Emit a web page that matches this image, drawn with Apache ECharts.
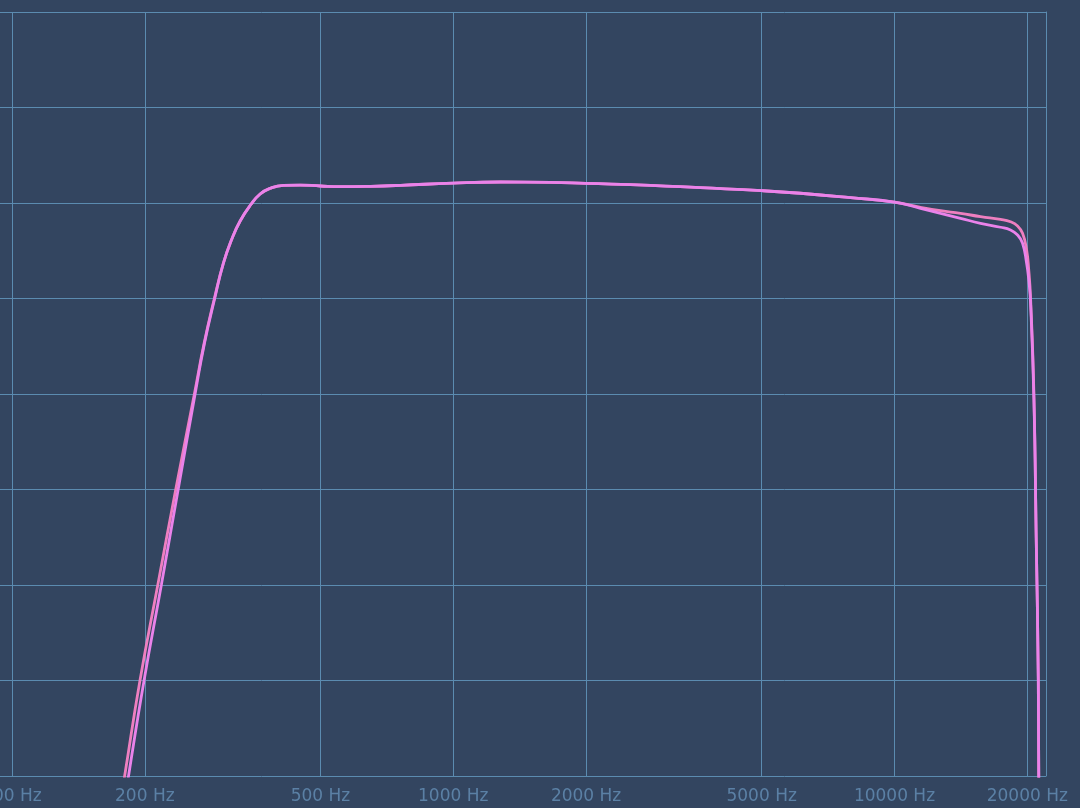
<!DOCTYPE html>
<html>
<head>
<meta charset="utf-8">
<title>Frequency response</title>
<script src="https://cdn.jsdelivr.net/npm/echarts@6/dist/echarts.min.js"></script>
<style>
  html, body { margin: 0; padding: 0; background: #334560; }
  #chart { width: 1080px; height: 808px; }
</style>
</head>
<body>
<div id="chart"></div>
<script>
// tick labels on the frequency axis (Hz)
var freqTicks = [100, 200, 500, 1000, 2000, 5000, 10000, 20000];

// curve 1 (pink)
var pinkFreq = [160, 166, 180, 195, 214, 235, 259, 272.5, 287.5, 301.4, 315, 328.9, 347.8, 365.1, 384.6, 412.3, 449.8, 500, 554.3, 650, 760, 1000, 1280, 1660, 2000, 2800, 3630, 5000, 6120, 7950, 10000, 11455, 12717, 14115, 15668, 17394, 18323, 19010, 19513, 19925, 20150, 20346, 20700, 20950, 21182, 21260];
var pinkDb = [-82, -80, -70, -60, -50, -40, -30, -24.7, -20, -16.3, -13.77, -11.88, -10.16, -9.06, -8.46, -8.15, -8.12, -8.22, -8.29, -8.25, -8.15, -7.91, -7.8, -7.83, -7.94, -8.15, -8.4, -8.71, -8.98, -9.44, -9.9, -10.45, -10.81, -11.08, -11.43, -11.71, -11.96, -12.41, -13.17, -14.9, -17, -20, -30, -45, -60, -75];

// curve 2 (violet)
var violetFreq = [164, 170, 183.7, 199.2, 218, 238, 260, 273, 288, 301.4, 315, 328.9, 347.8, 365.1, 384.6, 412.3, 449.8, 500, 554.3, 650, 760, 1000, 1280, 1660, 2000, 2800, 3630, 5000, 6120, 7950, 10000, 11455, 12717, 14115, 15668, 17394, 18323, 19010, 19513, 19925, 20150, 20346, 20700, 20950, 21182, 21260];
var violetDb = [-82, -80, -70, -60, -50, -40, -30, -24.7, -20, -16.3, -13.77, -11.88, -10.16, -9.06, -8.46, -8.15, -8.12, -8.22, -8.29, -8.25, -8.15, -7.91, -7.8, -7.83, -7.94, -8.15, -8.4, -8.71, -8.98, -9.44, -9.9, -10.56, -11.08, -11.6, -12.13, -12.54, -12.83, -13.35, -14.22, -16.28, -18, -20.5, -30.5, -45, -60, -75];

function pairs(xs, ys) {
    return xs.map(function (x, i) { return [x, ys[i]]; });
}

var gridColor = '#5b8bb0';

var option = {
    backgroundColor: '#334560',
    animation: false,
    grid: {
        left: 0,
        right: 34,
        top: 12,
        bottom: 32,
        containLabel: false,
        outerBoundsMode: 'none'
    },
    xAxis: {
        type: 'log',
        logBase: 10,
        min: 93.93,
        max: 22050,
        axisLine: { show: true, lineStyle: { color: gridColor, width: 1 } },
        axisTick: { show: false, customValues: freqTicks },
        axisLabel: {
            customValues: freqTicks,
            color: '#5b80a5',
            fontFamily: 'DejaVu Sans',
            fontSize: 17,
            margin: 12,
            formatter: function (v) { return v + ' Hz'; }
        },
        splitLine: { show: true, lineStyle: { color: gridColor, width: 1 } }
    },
    yAxis: {
        type: 'value',
        position: 'right',
        min: -70,
        max: 10,
        interval: 10,
        axisLine: { show: true, lineStyle: { color: gridColor, width: 1 } },
        axisTick: { show: false },
        axisLabel: { show: false },
        splitLine: { show: true, lineStyle: { color: gridColor, width: 1 } }
    },
    series: [{
        name: 'pink',
        type: 'line',
        data: pairs(pinkFreq, pinkDb),
        smooth: 0.5,
        symbol: 'none',
        clip: true,
        lineStyle: { color: '#ee7fc0', width: 2.8 }
    }, {
        name: 'violet',
        type: 'line',
        data: pairs(violetFreq, violetDb),
        smooth: 0.5,
        symbol: 'none',
        clip: true,
        lineStyle: { color: '#ea82ea', width: 2.8 }
    }]
};

var chart = echarts.init(document.getElementById('chart'));
chart.setOption(option);
</script>
</body>
</html>
